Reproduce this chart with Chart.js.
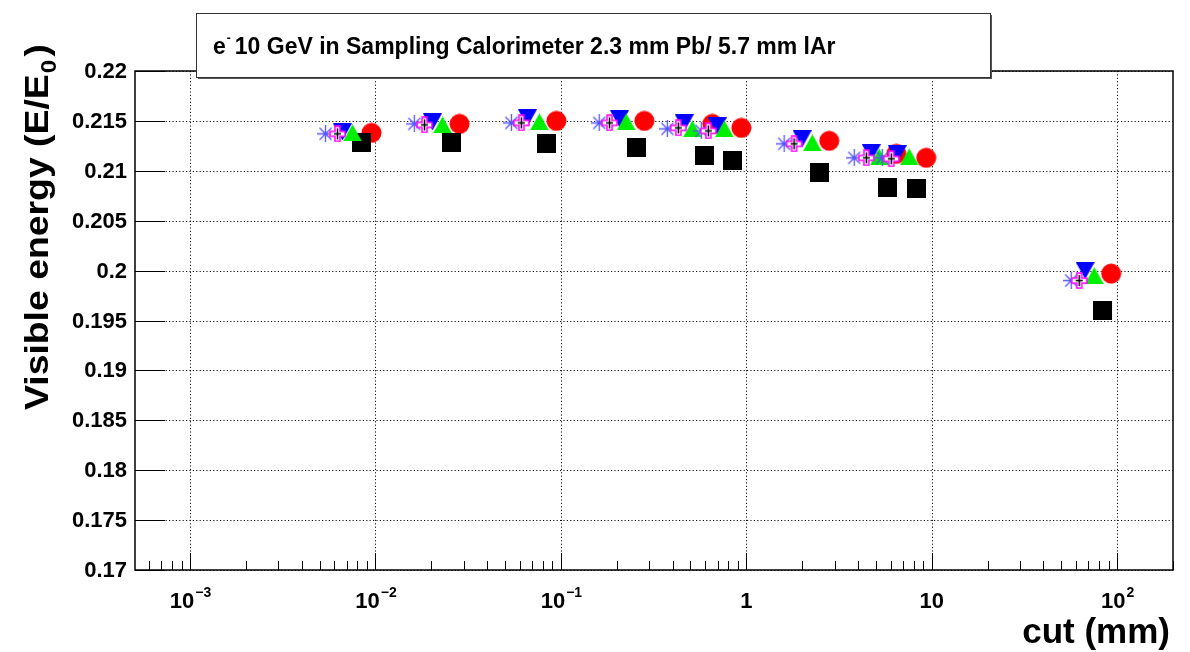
<!DOCTYPE html>
<html>
<head>
<meta charset="utf-8">
<script src="https://cdn.jsdelivr.net/npm/chart.js@4"></script>
<style>
  html, body { margin: 0; padding: 0; background: #fff; }
  canvas { display: block; }
</style>
</head>
<body>
<canvas id="plot" width="1190" height="652"></canvas>
<script>
// cut values (mm) and visible energy fractions, one pair of arrays per marker set
const cutStar  = [0.00538, 0.0162, 0.0541, 0.161, 0.375, 0.572, 1.60, 3.82, 5.41, 56.5];
const eStar    = [0.2137, 0.2147, 0.2148, 0.2148, 0.2142, 0.2140, 0.2127, 0.2113, 0.2113, 0.1990];

const cutCross = [0.00624, 0.0184, 0.0612, 0.183, 0.430, 0.624, 1.81, 4.44, 6.05, 62.4];
const eCross   = [0.2137, 0.2146, 0.2148, 0.2148, 0.2143, 0.2140, 0.2127, 0.2113, 0.2112, 0.1990];

const cutTriDown = [0.00664, 0.0203, 0.0660, 0.207, 0.463, 0.698, 2.00, 4.72, 6.52, 67.2];
const eTriDown   = [0.2139, 0.2149, 0.2153, 0.2152, 0.2148, 0.2145, 0.2132, 0.2118, 0.2117, 0.2000];

const cutTriUp = [0.00752, 0.0230, 0.0766, 0.225, 0.512, 0.761, 2.27, 5.21, 7.56, 75.2];
const eTriUp   = [0.2138, 0.2146, 0.2149, 0.2149, 0.2142, 0.2142, 0.2128, 0.2114, 0.2114, 0.1995];

const cutSquare = [0.00841, 0.0257, 0.0835, 0.255, 0.594, 0.840, 2.48, 5.76, 8.25, 83.0];
const eSquare   = [0.2128, 0.2128, 0.2127, 0.2123, 0.2115, 0.2110, 0.2098, 0.2083, 0.2082, 0.1960];

const cutCircle = [0.00952, 0.0284, 0.0946, 0.282, 0.656, 0.940, 2.80, 6.44, 9.34, 92.8];
const eCircle   = [0.2138, 0.2147, 0.2150, 0.2150, 0.2147, 0.2143, 0.2130, 0.2117, 0.2113, 0.1997];

// axes
const yTicks = [0.17, 0.175, 0.18, 0.185, 0.19, 0.195, 0.2, 0.205, 0.21, 0.215, 0.22];
const yTickLabels = ["0.17", "0.175", "0.18", "0.185", "0.19", "0.195", "0.2", "0.205", "0.21", "0.215", "0.22"];
const xDecades = [1e-3, 1e-2, 1e-1, 1, 10, 100];
const xDecadeBase = ["10", "10", "10", "1", "10", "10"];
const xDecadeExp = ["\u22123", "\u22122", "\u22121", "", "", "2"];

const titleText = "10 GeV in Sampling Calorimeter 2.3 mm Pb/ 5.7 mm lAr";
const xTitle = "cut (mm)";
const yTitle = "Visible energy (E/E";

const FONT = "'Liberation Sans', Arial, sans-serif";

function toPoints(xs, ys) {
  return xs.map((x, i) => ({ x: x, y: ys[i] }));
}

// ROOT-like markers drawn on small canvases
function makeMarker(kind) {
  const c = document.createElement("canvas");
  let g;
  if (kind == "circle") {
    c.width = 21; c.height = 21;
    g = c.getContext("2d");
    g.fillStyle = "#ff0000";
    g.beginPath(); g.arc(10.5, 10.5, 10, 0, Math.PI * 2); g.fill();
  } else if (kind == "square") {
    c.width = 19; c.height = 19;
    g = c.getContext("2d");
    g.fillStyle = "#000000";
    g.fillRect(0, 0, 19, 19);
  } else if (kind == "triDown") {
    c.width = 19; c.height = 17;
    g = c.getContext("2d");
    g.fillStyle = "#0000ff";
    g.beginPath(); g.moveTo(0, 0); g.lineTo(19, 0); g.lineTo(9.5, 17); g.closePath(); g.fill();
  } else if (kind == "triUp") {
    c.width = 19; c.height = 17;
    g = c.getContext("2d");
    g.fillStyle = "#00ee00";
    g.beginPath(); g.moveTo(0, 17); g.lineTo(19, 17); g.lineTo(9.5, 0); g.closePath(); g.fill();
  } else if (kind == "star") {
    c.width = 17; c.height = 17;
    g = c.getContext("2d");
    g.strokeStyle = "#5555ff";
    g.lineWidth = 1.3;
    g.beginPath();
    g.moveTo(0, 8.5); g.lineTo(17, 8.5);
    g.moveTo(8.5, 0); g.lineTo(8.5, 17);
    g.moveTo(2.5, 2.5); g.lineTo(14.5, 14.5);
    g.moveTo(14.5, 2.5); g.lineTo(2.5, 14.5);
    g.stroke();
  } else if (kind == "openCross") {
    c.width = 17; c.height = 17;
    g = c.getContext("2d");
    const a = 1, b = 6, d = 11, e = 16;
    g.beginPath();
    g.moveTo(b, a); g.lineTo(d, a); g.lineTo(d, b); g.lineTo(e, b); g.lineTo(e, d);
    g.lineTo(d, d); g.lineTo(d, e); g.lineTo(b, e); g.lineTo(b, d); g.lineTo(a, d);
    g.lineTo(a, b); g.lineTo(b, b); g.closePath();
    g.fillStyle = "#ffffff";
    g.fill();
    g.strokeStyle = "#ff00ff";
    g.lineWidth = 1.5;
    g.stroke();
    g.strokeStyle = "#000000";
    g.lineWidth = 1.5;
    g.beginPath();
    g.moveTo(8.5, 3); g.lineTo(8.5, 14);
    g.moveTo(5, 8.5); g.lineTo(12, 8.5);
    g.stroke();
  }
  return c;
}

function dataset(xs, ys, kind) {
  return {
    data: toPoints(xs, ys),
    pointStyle: makeMarker(kind),
    radius: 10,
    showLine: false,
  };
}

function drawSup(ctx, base, sup, cx, baseline, size) {
  ctx.font = "bold " + size + "px " + FONT;
  const wb = ctx.measureText(base).width;
  ctx.font = "bold " + Math.round(size * 0.65) + "px " + FONT;
  const ws = sup ? ctx.measureText(sup).width : 0;
  const x0 = cx - (wb + ws) / 2;
  ctx.textAlign = "left";
  ctx.textBaseline = "alphabetic";
  ctx.font = "bold " + size + "px " + FONT;
  ctx.fillText(base, x0, baseline);
  if (sup) {
    ctx.font = "bold " + Math.round(size * 0.65) + "px " + FONT;
    ctx.fillText(sup, x0 + wb + 1, baseline - size * 0.5);
  }
}

const rootFrame = {
  id: "rootFrame",
  beforeDatasetsDraw(chart) {
    const ctx = chart.ctx;
    const a = chart.chartArea;
    const xs = chart.scales.x, ys = chart.scales.y;
    ctx.save();
    ctx.strokeStyle = "#111";
    ctx.lineWidth = 1;
    ctx.setLineDash([1.2, 2.2]);
    ctx.beginPath();
    xDecades.forEach((v) => {
      const px = Math.round(xs.getPixelForValue(v)) + 0.5;
      ctx.moveTo(px, a.top); ctx.lineTo(px, a.bottom);
    });
    yTicks.forEach((v) => {
      const py = Math.round(ys.getPixelForValue(v)) + 0.5;
      ctx.moveTo(a.left, py); ctx.lineTo(a.right, py);
    });
    ctx.stroke();
    ctx.restore();
  },
  afterDatasetsDraw(chart) {
    const ctx = chart.ctx;
    const a = chart.chartArea;
    const xs = chart.scales.x, ys = chart.scales.y;
    ctx.save();
    ctx.strokeStyle = "#000";
    ctx.lineWidth = 1;
    ctx.beginPath();
    // y ticks
    yTicks.forEach((v) => {
      const py = Math.round(ys.getPixelForValue(v)) + 0.5;
      ctx.moveTo(a.left, py); ctx.lineTo(a.left + 30, py);
    });
    // x ticks, major and minor
    for (let p = -4; p <= 2; p++) {
      for (let m = 1; m <= 9; m++) {
        const v = m * Math.pow(10, p);
        if (v < xs.min || v > xs.max) continue;
        const px = Math.round(xs.getPixelForValue(v)) + 0.5;
        ctx.moveTo(px, a.bottom); ctx.lineTo(px, a.bottom - (m == 1 ? 17 : 9));
      }
    }
    ctx.stroke();

    // frame
    ctx.lineWidth = 1.5;
    ctx.strokeRect(a.left, a.top, a.right - a.left, a.bottom - a.top);

    // tick labels
    ctx.fillStyle = "#000";
    ctx.font = "bold 22px " + FONT;
    ctx.textAlign = "right";
    ctx.textBaseline = "middle";
    yTicks.forEach((v, i) => {
      ctx.fillText(yTickLabels[i], a.left - 8, ys.getPixelForValue(v) + 1);
    });
    xDecades.forEach((v, i) => {
      drawSup(ctx, xDecadeBase[i], xDecadeExp[i], xs.getPixelForValue(v), 608, 22);
    });

    // axis titles
    ctx.font = "bold 35px " + FONT;
    ctx.textAlign = "right";
    ctx.textBaseline = "alphabetic";
    ctx.fillText(xTitle, 1170, 643);

    ctx.save();
    ctx.translate(48, 410);
    ctx.rotate(-Math.PI / 2);
    ctx.textAlign = "left";
    ctx.font = "bold 34px " + FONT;
    const wt = ctx.measureText(yTitle).width;
    ctx.font = "bold 22px " + FONT;
    const w0 = ctx.measureText("0").width;
    ctx.font = "bold 34px " + FONT;
    const wp = ctx.measureText(")").width;
    const total = wt + w0 + wp + 4;
    ctx.scale(366 / total, 1);
    ctx.fillText(yTitle, 0, 0);
    ctx.font = "bold 22px " + FONT;
    ctx.fillText("0", wt + 1, 8);
    ctx.font = "bold 34px " + FONT;
    ctx.fillText(")", wt + w0 + 4, 0);
    ctx.restore();

    // title box with shadow
    const bx = 196, by = 13, bw = 794, bh = 64;
    ctx.fillStyle = "#555";
    ctx.fillRect(bx + 2, by + 2, bw, bh);
    ctx.fillStyle = "#fff";
    ctx.fillRect(bx, by, bw, bh);
    ctx.lineWidth = 1;
    ctx.strokeStyle = "#333";
    ctx.strokeRect(bx + 0.5, by + 0.5, bw, bh);
    ctx.fillStyle = "#000";
    ctx.textAlign = "left";
    ctx.font = "bold 23px " + FONT;
    ctx.fillText("e", 213, 54);
    const we = ctx.measureText("e").width;
    ctx.font = "bold 12px " + FONT;
    ctx.fillText("-", 213 + we + 1, 42);
    ctx.font = "bold 23px " + FONT;
    ctx.fillText(titleText, 213 + we + 9, 54);
    ctx.restore();
  },
};

new Chart(document.getElementById("plot"), {
  type: "scatter",
  data: {
    // first dataset is painted on top
    datasets: [
      dataset(cutCross, eCross, "openCross"),
      dataset(cutStar, eStar, "star"),
      dataset(cutTriUp, eTriUp, "triUp"),
      dataset(cutTriDown, eTriDown, "triDown"),
      dataset(cutSquare, eSquare, "square"),
      dataset(cutCircle, eCircle, "circle"),
    ],
  },
  options: {
    responsive: false,
    animation: false,
    events: [],
    layout: { padding: { left: 135, right: 17, top: 71, bottom: 82 } },
    plugins: { legend: { display: false }, tooltip: { enabled: false } },
    scales: {
      x: { type: "logarithmic", min: 5.05e-4, max: 200, display: false },
      y: { type: "linear", min: 0.17, max: 0.22, display: false },
    },
  },
  plugins: [rootFrame],
});
</script>
</body>
</html>
